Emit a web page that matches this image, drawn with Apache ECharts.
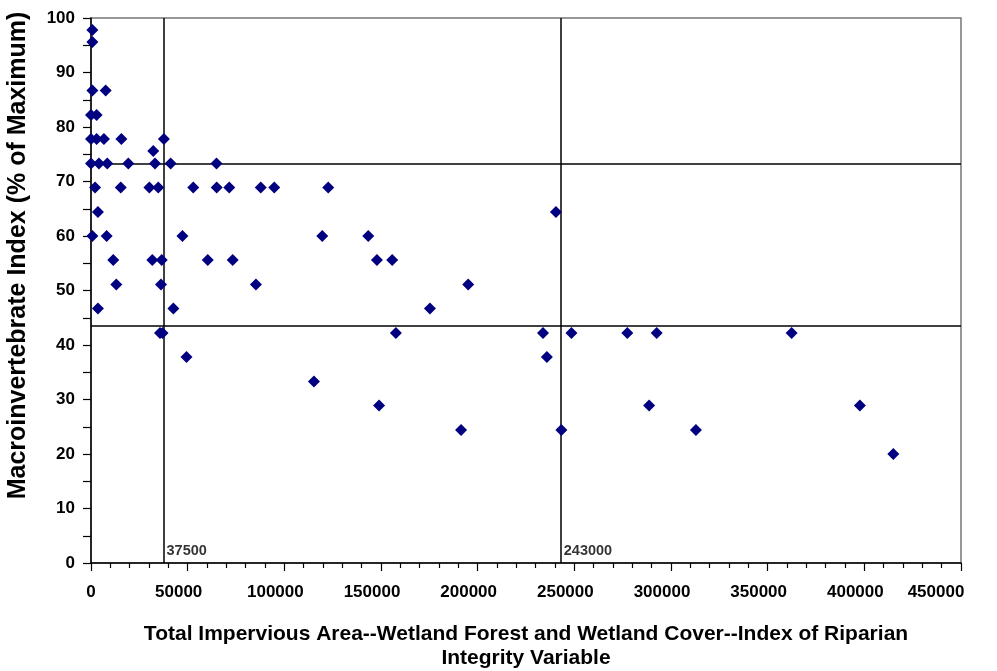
<!DOCTYPE html>
<html>
<head>
<meta charset="utf-8">
<script src="https://cdn.jsdelivr.net/npm/echarts@6/dist/echarts.min.js"></script>
<style>
  html, body { margin: 0; padding: 0; background: #fff; }
  #chart { width: 997px; height: 671px; }
</style>
</head>
<body>
<div id="chart"></div>
<script>
// Site observations: impervious-area index (x) vs. macroinvertebrate index (y)
const imperviousArea = [
  700, 700,
  700, 7600,
  0, 2900,
  0, 2900, 6700, 15700, 37700,
  32200,
  0, 4100, 8400, 19300, 33100, 41200, 64900,
  2100, 15400, 30200, 34800, 52900, 65000, 71500, 87800, 94800, 122700,
  3600, 240500,
  700, 8100, 47300, 119600, 143400,
  11500, 31700, 36600, 60400, 73300, 147900, 155800,
  13100, 36200, 85300, 195100,
  3600, 42600, 175300,
  35700, 37000, 157700, 233800, 248500, 277400, 292600, 362400,
  49400, 235800,
  115300,
  149000, 288700, 397700,
  191400, 243300, 312900,
  415000
];
const macroIndex = [
  97.8, 95.6,
  86.7, 86.7,
  82.2, 82.2,
  77.8, 77.8, 77.8, 77.8, 77.8,
  75.6,
  73.3, 73.3, 73.3, 73.3, 73.3, 73.3, 73.3,
  68.9, 68.9, 68.9, 68.9, 68.9, 68.9, 68.9, 68.9, 68.9, 68.9,
  64.4, 64.4,
  60.0, 60.0, 60.0, 60.0, 60.0,
  55.6, 55.6, 55.6, 55.6, 55.6, 55.6, 55.6,
  51.1, 51.1, 51.1, 51.1,
  46.7, 46.7, 46.7,
  42.2, 42.2, 42.2, 42.2, 42.2, 42.2, 42.2, 42.2,
  37.8, 37.8,
  33.3,
  28.9, 28.9, 28.9,
  24.4, 24.4, 24.4,
  20.0
];

// Threshold lines
const xThresholds = [37500, 243000];
const yThresholds = [73.3, 43.5];

const xTitle = 'Total Impervious Area--Wetland Forest and Wetland Cover--Index of Riparian\nIntegrity Variable';
const yTitle = 'Macroinvertebrate Index (% of Maximum)';

const points = imperviousArea.map((x, i) => [x, macroIndex[i]]);
const font = '"Liberation Sans", Arial, sans-serif';
const navy = '#000080';

const chart = echarts.init(document.getElementById('chart'), null, { renderer: 'canvas' });
chart.setOption({
  backgroundColor: '#ffffff',
  animation: false,
  grid: {
    left: 91, top: 18, right: 36, bottom: 108,
    outerBoundsMode: 'none',
    show: true, borderColor: '#777', borderWidth: 1.5, backgroundColor: 'transparent'
  },
  xAxis: {
    type: 'value', min: 0, max: 450000, interval: 50000,
    name: xTitle, nameLocation: 'middle', nameGap: 59,
    nameTextStyle: { fontFamily: font, fontWeight: 'bold', fontSize: 21, color: '#000', lineHeight: 24 },
    axisLine: { show: true, onZero: false, lineStyle: { color: '#000', width: 1.5 } },
    axisTick: { show: true, length: 8, lineStyle: { color: '#000', width: 1.2 } },
    minorTick: { show: true, splitNumber: 5, length: 5, lineStyle: { color: '#000', width: 1.2 } },
    splitLine: { show: false },
    axisLabel: {
      margin: 21, fontFamily: font, fontWeight: 'bold', fontSize: 17, color: '#000',
      padding: [0, 18, 0, 0],
      formatter: v => (v === 450000 ? '{last|' + v + '}' : (v === 0 ? '{zero|0}' : String(v))),
      rich: {
        last: { fontFamily: font, fontWeight: 'bold', fontSize: 17, color: '#000', padding: [0, 32, 0, 0] },
        zero: { fontFamily: font, fontWeight: 'bold', fontSize: 17, color: '#000', padding: [0, 0, 0, 18] }
      }
    }
  },
  yAxis: {
    type: 'value', min: 0, max: 100, interval: 10,
    name: yTitle, nameLocation: 'middle', nameGap: 60,
    nameTextStyle: {
      fontFamily: font, fontWeight: 'bold', fontSize: 25, color: '#000',
      padding: [0, 0, 0, 70]
    },
    axisLine: { show: true, onZero: false, lineStyle: { color: '#000', width: 1.5 } },
    axisTick: { show: true, length: 8, lineStyle: { color: '#000', width: 1.2 } },
    minorTick: { show: true, splitNumber: 2, length: 8, lineStyle: { color: '#000', width: 1.2 } },
    splitLine: { show: false },
    axisLabel: { margin: 16, fontFamily: font, fontWeight: 'bold', fontSize: 17, color: '#000' }
  },
  series: [
    {
      type: 'scatter',
      data: points,
      symbol: 'diamond',
      symbolSize: 12,
      itemStyle: { color: navy, opacity: 1 },
      z: 5,
      markLine: {
        silent: true,
        symbol: ['none', 'none'],
        label: { show: false },
        lineStyle: { color: '#000', width: 1.5, type: 'solid' },
        data: [
          ...xThresholds.map(v => ({ xAxis: v })),
          ...yThresholds.map(v => ({ yAxis: v }))
        ]
      }
    },
    {
      // threshold value captions at the foot of each vertical line
      type: 'scatter',
      data: xThresholds.map(v => [v, 0]),
      symbolSize: 0,
      silent: true,
      z: 6,
      label: {
        show: true,
        position: [3, -20],
        formatter: p => String(p.value[0]),
        fontFamily: font, fontWeight: 'bold', fontSize: 14.5, color: '#000'
      }
    }
  ]
});
</script>
</body>
</html>
